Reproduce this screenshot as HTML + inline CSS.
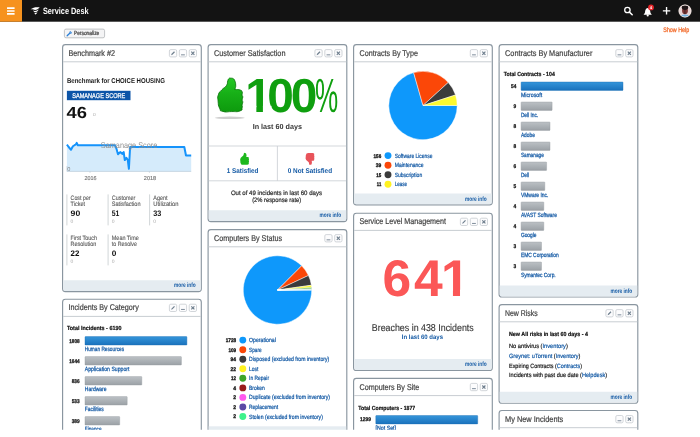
<!DOCTYPE html>
<html lang="en"><head><meta charset="utf-8"><title>Service Desk</title>
<style>html,body{margin:0;padding:0;background:#fff}body{width:700px;height:437px;overflow:hidden}svg{display:block}text{font-family:'Liberation Sans', sans-serif;text-rendering:geometricPrecision}</style>
</head><body>
<svg width="700" height="437" viewBox="0 0 700 437">
<defs>
<linearGradient id="gb" x1="0" y1="0" x2="0" y2="1"><stop offset="0" stop-color="#3595da"/><stop offset="1" stop-color="#1a72bd"/></linearGradient>
<linearGradient id="gg" x1="0" y1="0" x2="0" y2="1"><stop offset="0" stop-color="#bcc1c5"/><stop offset="1" stop-color="#9ba1a6"/></linearGradient>
<linearGradient id="gt" x1="0" y1="0" x2="0" y2="1"><stop offset="0" stop-color="#25c925"/><stop offset="0.45" stop-color="#17b017"/><stop offset="1" stop-color="#0d9a0d"/></linearGradient>
<clipPath id="clip"><rect x="0" y="0" width="700" height="429.8"/></clipPath>
<clipPath id="av"><circle cx="685" cy="11" r="6"/></clipPath>
</defs>
<rect width="700" height="437" fill="#fff"/>
<g clip-path="url(#clip)">
<rect x="0" y="0" width="700" height="21.7" fill="#131313"/>
<rect x="0" y="0" width="22" height="21.7" fill="#f6921e"/>
<rect x="7" y="7.25" width="7.6" height="1.7" rx="0.3" fill="#fff"/>
<rect x="7" y="10.15" width="7.6" height="1.7" rx="0.3" fill="#fff"/>
<rect x="7" y="13.05" width="7.6" height="1.7" rx="0.3" fill="#fff"/>
<path d="M30.6 9.3 C33 7.1 36.5 6.9 39.7 7.3 C38.3 9.5 35.6 10.4 33.4 9.6 C32.4 9.2 31.4 9.1 30.6 9.3 Z M32.9 10.5 C34.9 11.3 37 10.8 38.6 9.6 C37.8 11.8 36 12.6 34.3 12.1 Z M34.4 12.8 C35.5 13.1 36.5 12.8 37.4 12.0 C37 13.5 36.1 14.2 35.1 14.4 Z" fill="#fff"/>
<text x="42.9" y="14.1" font-size="9.2" fill="#fff" font-weight="bold" text-anchor="start" textLength="45.7" lengthAdjust="spacingAndGlyphs">Service Desk</text>
<circle cx="627.4" cy="10" r="2.7" fill="none" stroke="#fff" stroke-width="1.3"/>
<line x1="629.4" y1="12.1" x2="632.2" y2="14.8" stroke="#fff" stroke-width="1.5" stroke-linecap="round"/>
<path d="M647.7 7.9 C645.4 8.3 645.2 10.6 645.0 12.2 C644.9 13.3 644.1 13.9 643.5 14.7 H651.9 C651.3 13.9 650.5 13.3 650.4 12.2 C650.2 10.6 650.0 8.3 647.7 7.9 Z" fill="#fff"/>
<circle cx="647.7" cy="15.4" r="1.05" fill="#fff"/>
<circle cx="651.0" cy="7.4" r="2.9" fill="#e8262a"/>
<text x="651.0" y="8.9" font-size="4.2" fill="#fff" font-weight="bold" text-anchor="middle">4</text>
<path d="M666.55 7.1 V14.5 M662.85 10.8 H670.25" stroke="#fff" stroke-width="1.35" fill="none"/>
<circle cx="685" cy="11" r="6.2" fill="#e9dcd8"/>
<g clip-path="url(#av)"><rect x="679" y="5" width="12" height="12" fill="#e6d3d3"/><ellipse cx="685" cy="10.4" rx="2.9" ry="3.8" fill="#7a3434"/><ellipse cx="685" cy="7.6" rx="3.2" ry="2.3" fill="#1c1416"/><rect x="684.3" y="6" width="1.2" height="8" fill="#2a1a1c" opacity="0.6"/><ellipse cx="685" cy="17.2" rx="4.8" ry="2.6" fill="#6fb0e0"/></g>
<circle cx="685" cy="11" r="6.1" fill="none" stroke="#f1e6e2" stroke-width="0.8"/>
<text x="663.3" y="31.6" font-size="6.6" fill="#f26522" font-weight="normal" text-anchor="start" textLength="26.0" lengthAdjust="spacingAndGlyphs" stroke="#f26522" stroke-width="0.25">Show Help</text>
<rect x="64.4" y="29.1" width="40.2" height="8.7" rx="1.6" fill="#f4f4f5" stroke="#b2b5b8" stroke-width="0.8"/>
<path d="M66.7 35.3 L69.3 32.7 A1.7 1.7 0 0 1 71.3 31.0 L70.3 32.0 L71.0 32.8 L72.1 31.8 A1.7 1.7 0 0 1 70.2 33.7 L67.6 36.2 A0.6 0.6 0 0 1 66.7 35.3 Z" fill="#2a7fd6"/>
<text x="73.9" y="35.4" font-size="6.0" fill="#3a3a3a" font-weight="normal" text-anchor="start" textLength="25.4" lengthAdjust="spacingAndGlyphs" stroke="#3a3a3a" stroke-width="0.2">Personalize</text>
<g>
<rect x="62.6" y="44.6" width="138.7" height="247.0" rx="2.8" fill="#fff" stroke="#8a96a0" stroke-width="1.15"/>
<line x1="63.1" y1="61.8" x2="200.8" y2="61.8" stroke="#c8cdd2" stroke-width="1"/>
<text x="68.5" y="55.8" font-size="8.4" fill="#424242" font-weight="normal" text-anchor="start" textLength="46.5" lengthAdjust="spacingAndGlyphs" stroke="#424242" stroke-width="0.2">Benchmark #2</text>
<rect x="169.4" y="49.6" width="7.3" height="7.3" rx="1.4" fill="#fcfcfd" stroke="#c6ccd1" stroke-width="0.8"/>
<path d="M171.15 55.15 L171.55 53.85 L174.05 51.35 L174.95 52.25 L172.45 54.75 Z" fill="#6f7f8e"/>
<rect x="179.3" y="49.6" width="7.3" height="7.3" rx="1.4" fill="#fcfcfd" stroke="#c6ccd1" stroke-width="0.8"/>
<line x1="181.05" y1="54.85" x2="184.85" y2="54.85" stroke="#6f7f8e" stroke-width="0.9"/>
<rect x="189.2" y="49.6" width="7.3" height="7.3" rx="1.4" fill="#fcfcfd" stroke="#c6ccd1" stroke-width="0.8"/>
<path d="M191.30 51.70 L194.40 54.80 M194.40 51.70 L191.30 54.80" stroke="#6f7f8e" stroke-width="1.2" fill="none"/>
<path d="M63.2 280.2 H200.7 V289.1 Q200.7 291.0 198.7 291.0 H65.2 Q63.2 291.0 63.2 289.1 Z" fill="#e5ecf1"/>
<text x="174.0" y="287.3" font-size="6.4" fill="#145aa5" font-weight="bold" text-anchor="start" textLength="21.8" lengthAdjust="spacingAndGlyphs">more info</text>
</g>
<text x="66.9" y="82.9" font-size="7.0" fill="#1a1a1a" font-weight="bold" text-anchor="start" textLength="98.0" lengthAdjust="spacingAndGlyphs">Benchmark for CHOICE HOUSING</text>
<rect x="66.9" y="90.8" width="63.6" height="9.4" fill="#0d55a8"/>
<text x="72.2" y="98.0" font-size="6.8" fill="#fff" font-weight="normal" text-anchor="start" textLength="53.1" lengthAdjust="spacingAndGlyphs" stroke="#fff" stroke-width="0.25">SAMANAGE SCORE</text>
<text x="66.6" y="117.8" font-size="16" fill="#111" font-weight="bold" text-anchor="start" textLength="20.4" lengthAdjust="spacingAndGlyphs">46</text>
<text x="93.0" y="115.6" font-size="4.2" fill="#a8a8a8" font-weight="normal" text-anchor="start">D</text>
<path d="M66.9 144.7 L68.7 147.0 L71.0 149.8 L72.9 146.3 L74.5 145.2 L75.6 144.7 L76.7 142.9 L77.9 145.2 L115.0 145.2 L116.4 148.6 L118.0 154.3 L120.2 152.1 L122.5 153.9 L123.7 152.1 L124.8 160.1 L126.4 157.8 L127.8 160.1 L128.9 168.8 L130.1 147.0 L184.3 147.0 L186.0 155.5 L191.2 155.5 L191.2 171.5 L66.9 171.5 Z" fill="#d5ebfb"/>
<path d="M66.9 171.4 H191.2 M90 171.4 V172.8 M149.4 171.4 V172.8 M67 166 V171.4" stroke="#b4c4d2" stroke-width="0.6" fill="none"/>
<path d="M66.9 144.7 L68.7 147.0 L71.0 149.8 L72.9 146.3 L74.5 145.2 L75.6 144.7 L76.7 142.9 L77.9 145.2 L115.0 145.2 L116.4 148.6 L118.0 154.3 L120.2 152.1 L122.5 153.9 L123.7 152.1 L124.8 160.1 L126.4 157.8 L127.8 160.1 L128.9 168.8 L130.1 147.0 L184.3 147.0 L186.0 155.5 L191.2 155.5" fill="none" stroke="#1593fb" stroke-width="2.0" stroke-linejoin="round"/>
<text x="100.8" y="147.9" font-size="8.3" fill="#8f8f8f" font-weight="normal" text-anchor="start" textLength="56.5" lengthAdjust="spacingAndGlyphs">Samanage Score</text>
<text x="67.2" y="170.6" font-size="5.6" fill="#8a8a8a" font-weight="normal" text-anchor="start">0</text>
<text x="84.4" y="180.0" font-size="5.7" fill="#777" font-weight="normal" text-anchor="start" textLength="12.0" lengthAdjust="spacingAndGlyphs" stroke="#777" stroke-width="0.15">2016</text>
<text x="143.8" y="180.0" font-size="5.7" fill="#777" font-weight="normal" text-anchor="start" textLength="12.4" lengthAdjust="spacingAndGlyphs" stroke="#777" stroke-width="0.15">2018</text>
<line x1="66.9" y1="194.4" x2="66.9" y2="225.4" stroke="#cdd1d4" stroke-width="0.9"/>
<text x="70.6" y="199.6" font-size="6.3" fill="#5a5a5a" font-weight="normal" text-anchor="start" textLength="20.0" lengthAdjust="spacingAndGlyphs" stroke="#5a5a5a" stroke-width="0.12">Cost per</text>
<text x="70.6" y="206.1" font-size="6.3" fill="#5a5a5a" font-weight="normal" text-anchor="start" textLength="14.4" lengthAdjust="spacingAndGlyphs" stroke="#5a5a5a" stroke-width="0.12">Ticket</text>
<text x="70.6" y="216.1" font-size="8.0" fill="#111" font-weight="bold" text-anchor="start" textLength="9.6" lengthAdjust="spacingAndGlyphs">90</text>
<text x="70.6" y="223.0" font-size="5.0" fill="#a8a8a8" font-weight="normal" text-anchor="start">0</text>
<line x1="108.1" y1="194.4" x2="108.1" y2="225.4" stroke="#cdd1d4" stroke-width="0.9"/>
<text x="111.8" y="199.6" font-size="6.3" fill="#5a5a5a" font-weight="normal" text-anchor="start" textLength="23.4" lengthAdjust="spacingAndGlyphs" stroke="#5a5a5a" stroke-width="0.12">Customer</text>
<text x="111.8" y="206.1" font-size="6.3" fill="#5a5a5a" font-weight="normal" text-anchor="start" textLength="28.7" lengthAdjust="spacingAndGlyphs" stroke="#5a5a5a" stroke-width="0.12">Satisfaction</text>
<text x="111.8" y="216.1" font-size="8.0" fill="#111" font-weight="bold" text-anchor="start" textLength="7.6" lengthAdjust="spacingAndGlyphs">51</text>
<text x="111.8" y="223.0" font-size="5.0" fill="#a8a8a8" font-weight="normal" text-anchor="start">0</text>
<line x1="149.6" y1="194.4" x2="149.6" y2="225.4" stroke="#cdd1d4" stroke-width="0.9"/>
<text x="153.3" y="199.6" font-size="6.3" fill="#5a5a5a" font-weight="normal" text-anchor="start" textLength="14.2" lengthAdjust="spacingAndGlyphs" stroke="#5a5a5a" stroke-width="0.12">Agent</text>
<text x="153.3" y="206.1" font-size="6.3" fill="#5a5a5a" font-weight="normal" text-anchor="start" textLength="25.2" lengthAdjust="spacingAndGlyphs" stroke="#5a5a5a" stroke-width="0.12">Utilization</text>
<text x="153.3" y="216.1" font-size="8.0" fill="#111" font-weight="bold" text-anchor="start" textLength="8.0" lengthAdjust="spacingAndGlyphs">33</text>
<text x="153.3" y="223.0" font-size="5.0" fill="#a8a8a8" font-weight="normal" text-anchor="start">0</text>
<line x1="66.9" y1="234.4" x2="66.9" y2="265.4" stroke="#cdd1d4" stroke-width="0.9"/>
<text x="70.6" y="239.6" font-size="6.3" fill="#5a5a5a" font-weight="normal" text-anchor="start" textLength="26.3" lengthAdjust="spacingAndGlyphs" stroke="#5a5a5a" stroke-width="0.12">First Touch</text>
<text x="70.6" y="246.1" font-size="6.3" fill="#5a5a5a" font-weight="normal" text-anchor="start" textLength="25.8" lengthAdjust="spacingAndGlyphs" stroke="#5a5a5a" stroke-width="0.12">Resolution</text>
<text x="70.6" y="256.1" font-size="8.0" fill="#111" font-weight="bold" text-anchor="start" textLength="8.8" lengthAdjust="spacingAndGlyphs">22</text>
<text x="70.6" y="263.0" font-size="5.0" fill="#a8a8a8" font-weight="normal" text-anchor="start">0</text>
<line x1="108.1" y1="234.4" x2="108.1" y2="265.4" stroke="#cdd1d4" stroke-width="0.9"/>
<text x="111.8" y="239.6" font-size="6.3" fill="#5a5a5a" font-weight="normal" text-anchor="start" textLength="27.0" lengthAdjust="spacingAndGlyphs" stroke="#5a5a5a" stroke-width="0.12">Mean Time</text>
<text x="111.8" y="246.1" font-size="6.3" fill="#5a5a5a" font-weight="normal" text-anchor="start" textLength="25.2" lengthAdjust="spacingAndGlyphs" stroke="#5a5a5a" stroke-width="0.12">to Resolve</text>
<text x="111.8" y="256.1" font-size="8.0" fill="#111" font-weight="bold" text-anchor="start" textLength="4.6" lengthAdjust="spacingAndGlyphs">0</text>
<text x="111.8" y="263.0" font-size="5.0" fill="#a8a8a8" font-weight="normal" text-anchor="start">0</text>
<g>
<rect x="62.6" y="299.2" width="138.7" height="170.8" rx="2.8" fill="#fff" stroke="#8a96a0" stroke-width="1.15"/>
<line x1="63.1" y1="316.4" x2="200.8" y2="316.4" stroke="#c8cdd2" stroke-width="1"/>
<text x="68.5" y="310.4" font-size="8.4" fill="#424242" font-weight="normal" text-anchor="start" textLength="70.3" lengthAdjust="spacingAndGlyphs" stroke="#424242" stroke-width="0.2">Incidents By Category</text>
<rect x="169.4" y="304.2" width="7.3" height="7.3" rx="1.4" fill="#fcfcfd" stroke="#c6ccd1" stroke-width="0.8"/>
<path d="M171.15 309.75 L171.55 308.45 L174.05 305.95 L174.95 306.85 L172.45 309.35 Z" fill="#6f7f8e"/>
<rect x="179.3" y="304.2" width="7.3" height="7.3" rx="1.4" fill="#fcfcfd" stroke="#c6ccd1" stroke-width="0.8"/>
<line x1="181.05" y1="309.45" x2="184.85" y2="309.45" stroke="#6f7f8e" stroke-width="0.9"/>
<rect x="189.2" y="304.2" width="7.3" height="7.3" rx="1.4" fill="#fcfcfd" stroke="#c6ccd1" stroke-width="0.8"/>
<path d="M191.30 306.30 L194.40 309.40 M194.40 306.30 L191.30 309.40" stroke="#6f7f8e" stroke-width="1.2" fill="none"/>
</g>
<text x="66.9" y="330.1" font-size="5.9" fill="#111" font-weight="bold" text-anchor="start" textLength="54.5" lengthAdjust="spacingAndGlyphs" stroke="#111" stroke-width="0.2">Total Incidents - 6190</text>
<rect x="85.0" y="336.6" width="101.9" height="8.4" rx="0.5" fill="url(#gb)" stroke="#1a6db2" stroke-width="0.4"/>
<text x="79.7" y="342.5" font-size="5.5" fill="#111" font-weight="bold" text-anchor="end" textLength="10.5" lengthAdjust="spacingAndGlyphs" stroke="#111" stroke-width="0.25">1808</text>
<text x="84.8" y="351.2" font-size="6.1" fill="#145aa5" font-weight="normal" text-anchor="start" textLength="39.3" lengthAdjust="spacingAndGlyphs" stroke="#145aa5" stroke-width="0.25">Human Resources</text>
<rect x="85.0" y="356.6" width="96.4" height="8.4" rx="0.5" fill="url(#gg)" stroke="#959ba0" stroke-width="0.4"/>
<text x="79.7" y="362.5" font-size="5.5" fill="#111" font-weight="bold" text-anchor="end" textLength="10.5" lengthAdjust="spacingAndGlyphs" stroke="#111" stroke-width="0.25">1644</text>
<text x="84.8" y="371.2" font-size="6.1" fill="#145aa5" font-weight="normal" text-anchor="start" textLength="44.6" lengthAdjust="spacingAndGlyphs" stroke="#145aa5" stroke-width="0.25">Application Support</text>
<rect x="85.0" y="376.6" width="56.8" height="8.4" rx="0.5" fill="url(#gg)" stroke="#959ba0" stroke-width="0.4"/>
<text x="79.7" y="382.5" font-size="5.5" fill="#111" font-weight="bold" text-anchor="end" textLength="8.0" lengthAdjust="spacingAndGlyphs" stroke="#111" stroke-width="0.25">836</text>
<text x="84.8" y="391.2" font-size="6.1" fill="#145aa5" font-weight="normal" text-anchor="start" textLength="21.8" lengthAdjust="spacingAndGlyphs" stroke="#145aa5" stroke-width="0.25">Hardware</text>
<rect x="85.0" y="396.6" width="42.2" height="8.4" rx="0.5" fill="url(#gg)" stroke="#959ba0" stroke-width="0.4"/>
<text x="79.7" y="402.5" font-size="5.5" fill="#111" font-weight="bold" text-anchor="end" textLength="8.0" lengthAdjust="spacingAndGlyphs" stroke="#111" stroke-width="0.25">533</text>
<text x="84.8" y="411.2" font-size="6.1" fill="#145aa5" font-weight="normal" text-anchor="start" textLength="18.9" lengthAdjust="spacingAndGlyphs" stroke="#145aa5" stroke-width="0.25">Facilities</text>
<rect x="85.0" y="416.6" width="34.7" height="8.4" rx="0.5" fill="url(#gg)" stroke="#959ba0" stroke-width="0.4"/>
<text x="79.7" y="422.5" font-size="5.5" fill="#111" font-weight="bold" text-anchor="end" textLength="8.0" lengthAdjust="spacingAndGlyphs" stroke="#111" stroke-width="0.25">389</text>
<text x="84.8" y="431.2" font-size="6.1" fill="#145aa5" font-weight="normal" text-anchor="start" textLength="16.7" lengthAdjust="spacingAndGlyphs" stroke="#145aa5" stroke-width="0.25">Finance</text>
<g>
<rect x="208.1" y="44.6" width="138.7" height="177.0" rx="2.8" fill="#fff" stroke="#8a96a0" stroke-width="1.15"/>
<line x1="208.6" y1="61.8" x2="346.3" y2="61.8" stroke="#c8cdd2" stroke-width="1"/>
<text x="214.0" y="55.8" font-size="8.4" fill="#424242" font-weight="normal" text-anchor="start" textLength="71.5" lengthAdjust="spacingAndGlyphs" stroke="#424242" stroke-width="0.2">Customer Satisfaction</text>
<rect x="314.9" y="49.6" width="7.3" height="7.3" rx="1.4" fill="#fcfcfd" stroke="#c6ccd1" stroke-width="0.8"/>
<path d="M316.65 55.15 L317.05 53.85 L319.55 51.35 L320.45 52.25 L317.95 54.75 Z" fill="#6f7f8e"/>
<rect x="324.8" y="49.6" width="7.3" height="7.3" rx="1.4" fill="#fcfcfd" stroke="#c6ccd1" stroke-width="0.8"/>
<line x1="326.55" y1="54.85" x2="330.35" y2="54.85" stroke="#6f7f8e" stroke-width="0.9"/>
<rect x="334.7" y="49.6" width="7.3" height="7.3" rx="1.4" fill="#fcfcfd" stroke="#c6ccd1" stroke-width="0.8"/>
<path d="M336.80 51.70 L339.90 54.80 M339.90 51.70 L336.80 54.80" stroke="#6f7f8e" stroke-width="1.2" fill="none"/>
<path d="M208.7 210.2 H346.2 V219.1 Q346.2 221.0 344.2 221.0 H210.7 Q208.7 221.0 208.7 219.1 Z" fill="#e5ecf1"/>
<text x="319.5" y="217.3" font-size="6.4" fill="#145aa5" font-weight="bold" text-anchor="start" textLength="21.8" lengthAdjust="spacingAndGlyphs">more info</text>
</g>
<ellipse cx="229.8" cy="117.8" rx="15" ry="1.3" fill="#bdbdbd" opacity="0.75"/>
<g transform="translate(217.75 78.1) scale(0.965 0.965)"><path d="M13.60 0.10 C15.07 0.18 14.73 -0.18 16.10 0.75 C17.47 1.68 16.87 0.72 17.70 2.90 C18.53 5.08 18.47 4.73 18.60 7.30 C18.73 9.87 18.30 9.17 18.10 10.60 C17.90 12.03 17.83 11.17 18.00 11.60 C18.17 12.03 16.93 11.67 18.60 11.90 C20.27 12.13 20.77 11.47 23.00 12.30 C25.23 13.13 24.57 12.70 25.30 14.40 C26.03 16.10 25.00 15.67 25.20 17.40 C25.40 19.13 25.87 17.87 25.90 19.60 C25.93 21.33 25.30 20.80 25.30 22.60 C25.30 24.40 25.93 23.20 25.90 25.00 C25.87 26.80 25.40 26.13 25.20 28.00 C25.00 29.87 26.03 28.60 25.30 30.60 C24.57 32.60 26.77 32.63 23.00 34.00 C19.23 35.37 19.87 34.53 14.00 34.70 C8.13 34.87 9.43 35.67 5.40 34.50 C1.37 33.33 3.58 34.83 1.90 31.20 C0.22 27.57 0.78 28.20 0.35 23.60 C-0.08 19.00 -0.65 21.17 0.60 17.40 C1.85 13.63 1.33 15.47 4.10 12.30 C6.87 9.13 6.80 11.03 8.90 7.90 C11.00 4.77 9.47 5.37 10.40 2.90 C11.33 0.43 10.63 1.43 11.70 0.50 C12.77 -0.43 12.13 0.02 13.60 0.10 Z" fill="url(#gt)" stroke="#0a730a" stroke-width="0.9"/></g>
<text x="245.2 267.3 290.7" y="112.0" font-size="47.8" fill="#0f9f0f" font-weight="bold">100</text>
<rect x="247.11" y="105.83" width="9.24" height="7.17" fill="#fff"/>
<rect x="262.91" y="105.83" width="8.60" height="7.17" fill="#fff"/>
<text x="315.0" y="112.0" font-size="47.8" fill="#0f9f0f" font-weight="normal" text-anchor="start" textLength="23.2" lengthAdjust="spacingAndGlyphs">%</text>
<text x="252.7" y="129.3" font-size="7.3" fill="#333" font-weight="bold" text-anchor="start" textLength="49.2" lengthAdjust="spacingAndGlyphs">In last 60 days</text>
<line x1="208.7" y1="146" x2="346.2" y2="146" stroke="#c8cdd2" stroke-width="0.8"/>
<line x1="208.7" y1="180.8" x2="346.2" y2="180.8" stroke="#c8cdd2" stroke-width="0.8"/>
<line x1="277.4" y1="146" x2="277.4" y2="180.8" stroke="#c8cdd2" stroke-width="0.8"/>
<g transform="translate(240.2 152.9) scale(0.34 0.34)"><path d="M13.60 0.10 C15.07 0.18 14.73 -0.18 16.10 0.75 C17.47 1.68 16.87 0.72 17.70 2.90 C18.53 5.08 18.47 4.73 18.60 7.30 C18.73 9.87 18.30 9.17 18.10 10.60 C17.90 12.03 17.83 11.17 18.00 11.60 C18.17 12.03 16.93 11.67 18.60 11.90 C20.27 12.13 20.77 11.47 23.00 12.30 C25.23 13.13 24.57 12.70 25.30 14.40 C26.03 16.10 25.00 15.67 25.20 17.40 C25.40 19.13 25.87 17.87 25.90 19.60 C25.93 21.33 25.30 20.80 25.30 22.60 C25.30 24.40 25.93 23.20 25.90 25.00 C25.87 26.80 25.40 26.13 25.20 28.00 C25.00 29.87 26.03 28.60 25.30 30.60 C24.57 32.60 26.77 32.63 23.00 34.00 C19.23 35.37 19.87 34.53 14.00 34.70 C8.13 34.87 9.43 35.67 5.40 34.50 C1.37 33.33 3.58 34.83 1.90 31.20 C0.22 27.57 0.78 28.20 0.35 23.60 C-0.08 19.00 -0.65 21.17 0.60 17.40 C1.85 13.63 1.33 15.47 4.10 12.30 C6.87 9.13 6.80 11.03 8.90 7.90 C11.00 4.77 9.47 5.37 10.40 2.90 C11.33 0.43 10.63 1.43 11.70 0.50 C12.77 -0.43 12.13 0.02 13.60 0.10 Z" fill="#1db81d"/></g>
<g transform="translate(305.6 164.9) scale(0.34 -0.34)"><path d="M13.60 0.10 C15.07 0.18 14.73 -0.18 16.10 0.75 C17.47 1.68 16.87 0.72 17.70 2.90 C18.53 5.08 18.47 4.73 18.60 7.30 C18.73 9.87 18.30 9.17 18.10 10.60 C17.90 12.03 17.83 11.17 18.00 11.60 C18.17 12.03 16.93 11.67 18.60 11.90 C20.27 12.13 20.77 11.47 23.00 12.30 C25.23 13.13 24.57 12.70 25.30 14.40 C26.03 16.10 25.00 15.67 25.20 17.40 C25.40 19.13 25.87 17.87 25.90 19.60 C25.93 21.33 25.30 20.80 25.30 22.60 C25.30 24.40 25.93 23.20 25.90 25.00 C25.87 26.80 25.40 26.13 25.20 28.00 C25.00 29.87 26.03 28.60 25.30 30.60 C24.57 32.60 26.77 32.63 23.00 34.00 C19.23 35.37 19.87 34.53 14.00 34.70 C8.13 34.87 9.43 35.67 5.40 34.50 C1.37 33.33 3.58 34.83 1.90 31.20 C0.22 27.57 0.78 28.20 0.35 23.60 C-0.08 19.00 -0.65 21.17 0.60 17.40 C1.85 13.63 1.33 15.47 4.10 12.30 C6.87 9.13 6.80 11.03 8.90 7.90 C11.00 4.77 9.47 5.37 10.40 2.90 C11.33 0.43 10.63 1.43 11.70 0.50 C12.77 -0.43 12.13 0.02 13.60 0.10 Z" fill="#e8535a"/></g>
<text x="226.8" y="173.1" font-size="6.9" fill="#145aa5" font-weight="bold" text-anchor="start" textLength="31.6" lengthAdjust="spacingAndGlyphs">1 Satisfied</text>
<text x="287.7" y="173.1" font-size="6.9" fill="#145aa5" font-weight="bold" text-anchor="start" textLength="44.4" lengthAdjust="spacingAndGlyphs">0 Not Satisfied</text>
<text x="230.9" y="194.6" font-size="6.3" fill="#2a2a2a" font-weight="normal" text-anchor="start" textLength="91.1" lengthAdjust="spacingAndGlyphs" stroke="#2a2a2a" stroke-width="0.2">Out of 49 incidents in last 60 days</text>
<text x="252.2" y="202.3" font-size="6.3" fill="#2a2a2a" font-weight="normal" text-anchor="start" textLength="49.0" lengthAdjust="spacingAndGlyphs" stroke="#2a2a2a" stroke-width="0.2">(2% response rate)</text>
<g>
<rect x="208.1" y="229.6" width="138.7" height="240.4" rx="2.8" fill="#fff" stroke="#8a96a0" stroke-width="1.15"/>
<line x1="208.6" y1="246.8" x2="346.3" y2="246.8" stroke="#c8cdd2" stroke-width="1"/>
<text x="214.0" y="240.8" font-size="8.4" fill="#424242" font-weight="normal" text-anchor="start" textLength="68.0" lengthAdjust="spacingAndGlyphs" stroke="#424242" stroke-width="0.2">Computers By Status</text>
<rect x="324.8" y="234.6" width="7.3" height="7.3" rx="1.4" fill="#fcfcfd" stroke="#c6ccd1" stroke-width="0.8"/>
<line x1="326.55" y1="239.85" x2="330.35" y2="239.85" stroke="#6f7f8e" stroke-width="0.9"/>
<rect x="334.7" y="234.6" width="7.3" height="7.3" rx="1.4" fill="#fcfcfd" stroke="#c6ccd1" stroke-width="0.8"/>
<path d="M336.80 236.70 L339.90 239.80 M339.90 236.70 L336.80 239.80" stroke="#6f7f8e" stroke-width="1.2" fill="none"/>
</g>
<path d="M277.50 290.00 L311.70 290.00 A34.2 34.2 0 1 1 301.67 265.81 Z" fill="#0e98fb" stroke="#fff" stroke-width="0.45" stroke-linejoin="round"/>
<path d="M277.50 290.00 L301.67 265.81 A34.2 34.2 0 0 1 308.46 275.46 Z" fill="#fb4708" stroke="#fff" stroke-width="0.45" stroke-linejoin="round"/>
<path d="M277.50 290.00 L308.46 275.46 A34.2 34.2 0 0 1 311.37 285.23 Z" fill="#3b3b3b" stroke="#fff" stroke-width="0.45" stroke-linejoin="round"/>
<path d="M277.50 290.00 L311.37 285.23 A34.2 34.2 0 0 1 311.62 287.61 Z" fill="#fcf930" stroke="#fff" stroke-width="0.45" stroke-linejoin="round"/>
<path d="M277.50 290.00 L311.62 287.61 A34.2 34.2 0 0 1 311.68 288.91 Z" fill="#3ea52a" stroke="#fff" stroke-width="0.45" stroke-linejoin="round"/>
<path d="M277.50 290.00 L311.68 288.91 A34.2 34.2 0 0 1 311.69 289.35 Z" fill="#991b1b" stroke="#fff" stroke-width="0.45" stroke-linejoin="round"/>
<path d="M277.50 290.00 L311.69 289.35 A34.2 34.2 0 0 1 311.70 289.56 Z" fill="#ff58ee" stroke="#fff" stroke-width="0.45" stroke-linejoin="round"/>
<path d="M277.50 290.00 L311.70 289.56 A34.2 34.2 0 0 1 311.70 289.78 Z" fill="#5a49a6" stroke="#fff" stroke-width="0.45" stroke-linejoin="round"/>
<path d="M277.50 290.00 L311.70 289.78 A34.2 34.2 0 0 1 311.70 290.00 Z" fill="#3df28b" stroke="#fff" stroke-width="0.45" stroke-linejoin="round"/>
<text x="236.1" y="342.0" font-size="5.3" fill="#111" font-weight="bold" text-anchor="end" textLength="10.4" lengthAdjust="spacingAndGlyphs" stroke="#111" stroke-width="0.3">1728</text>
<circle cx="242.8" cy="340.1" r="3.45" fill="#0e98fb"/>
<text x="249.0" y="342.1" font-size="6.1" fill="#145aa5" font-weight="normal" text-anchor="start" textLength="26.8" lengthAdjust="spacingAndGlyphs" stroke="#145aa5" stroke-width="0.22">Operational</text>
<text x="236.1" y="351.6" font-size="5.3" fill="#111" font-weight="bold" text-anchor="end" textLength="7.7" lengthAdjust="spacingAndGlyphs" stroke="#111" stroke-width="0.3">109</text>
<circle cx="242.8" cy="349.7" r="3.45" fill="#fb4708"/>
<text x="249.0" y="351.7" font-size="6.1" fill="#145aa5" font-weight="normal" text-anchor="start" textLength="12.6" lengthAdjust="spacingAndGlyphs" stroke="#145aa5" stroke-width="0.22">Spare</text>
<text x="236.1" y="361.1" font-size="5.3" fill="#111" font-weight="bold" text-anchor="end" textLength="5.5" lengthAdjust="spacingAndGlyphs" stroke="#111" stroke-width="0.3">94</text>
<circle cx="242.8" cy="359.2" r="3.45" fill="#3b3b3b"/>
<text x="249.0" y="361.2" font-size="6.1" fill="#145aa5" font-weight="normal" text-anchor="start" textLength="80.3" lengthAdjust="spacingAndGlyphs" stroke="#145aa5" stroke-width="0.22">Disposed (excluded from inventory)</text>
<text x="236.1" y="370.6" font-size="5.3" fill="#111" font-weight="bold" text-anchor="end" textLength="5.5" lengthAdjust="spacingAndGlyphs" stroke="#111" stroke-width="0.3">22</text>
<circle cx="242.8" cy="368.8" r="3.45" fill="#fff21f"/>
<text x="249.0" y="370.8" font-size="6.1" fill="#145aa5" font-weight="normal" text-anchor="start" textLength="9.4" lengthAdjust="spacingAndGlyphs" stroke="#145aa5" stroke-width="0.22">Lost</text>
<text x="236.1" y="380.2" font-size="5.3" fill="#111" font-weight="bold" text-anchor="end" textLength="5.0" lengthAdjust="spacingAndGlyphs" stroke="#111" stroke-width="0.3">12</text>
<circle cx="242.8" cy="378.3" r="3.45" fill="#3ea52a"/>
<text x="249.0" y="380.3" font-size="6.1" fill="#145aa5" font-weight="normal" text-anchor="start" textLength="20.1" lengthAdjust="spacingAndGlyphs" stroke="#145aa5" stroke-width="0.22">In Repair</text>
<text x="236.1" y="389.8" font-size="5.3" fill="#111" font-weight="bold" text-anchor="end" textLength="2.8" lengthAdjust="spacingAndGlyphs" stroke="#111" stroke-width="0.3">4</text>
<circle cx="242.8" cy="387.9" r="3.45" fill="#991b1b"/>
<text x="249.0" y="389.9" font-size="6.1" fill="#145aa5" font-weight="normal" text-anchor="start" textLength="15.8" lengthAdjust="spacingAndGlyphs" stroke="#145aa5" stroke-width="0.22">Broken</text>
<text x="236.1" y="399.3" font-size="5.3" fill="#111" font-weight="bold" text-anchor="end" textLength="2.8" lengthAdjust="spacingAndGlyphs" stroke="#111" stroke-width="0.3">2</text>
<circle cx="242.8" cy="397.4" r="3.45" fill="#ff58ee"/>
<text x="249.0" y="399.4" font-size="6.1" fill="#145aa5" font-weight="normal" text-anchor="start" textLength="81.1" lengthAdjust="spacingAndGlyphs" stroke="#145aa5" stroke-width="0.22">Duplicate (excluded from inventory)</text>
<text x="236.1" y="408.9" font-size="5.3" fill="#111" font-weight="bold" text-anchor="end" textLength="2.8" lengthAdjust="spacingAndGlyphs" stroke="#111" stroke-width="0.3">2</text>
<circle cx="242.8" cy="407.0" r="3.45" fill="#5a49a6"/>
<text x="249.0" y="409.0" font-size="6.1" fill="#145aa5" font-weight="normal" text-anchor="start" textLength="29.2" lengthAdjust="spacingAndGlyphs" stroke="#145aa5" stroke-width="0.22">Replacement</text>
<text x="236.1" y="418.4" font-size="5.3" fill="#111" font-weight="bold" text-anchor="end" textLength="2.8" lengthAdjust="spacingAndGlyphs" stroke="#111" stroke-width="0.3">2</text>
<circle cx="242.8" cy="416.5" r="3.45" fill="#3df28b"/>
<text x="249.0" y="418.5" font-size="6.1" fill="#145aa5" font-weight="normal" text-anchor="start" textLength="73.9" lengthAdjust="spacingAndGlyphs" stroke="#145aa5" stroke-width="0.22">Stolen (excluded from inventory)</text>
<rect x="208.7" y="426.3" width="137.5" height="10" fill="#e5ecf1"/>
<g>
<rect x="353.6" y="44.6" width="138.7" height="160.3" rx="2.8" fill="#fff" stroke="#8a96a0" stroke-width="1.15"/>
<line x1="354.1" y1="61.8" x2="491.8" y2="61.8" stroke="#c8cdd2" stroke-width="1"/>
<text x="359.5" y="55.8" font-size="8.4" fill="#424242" font-weight="normal" text-anchor="start" textLength="58.4" lengthAdjust="spacingAndGlyphs" stroke="#424242" stroke-width="0.2">Contracts By Type</text>
<rect x="470.3" y="49.6" width="7.3" height="7.3" rx="1.4" fill="#fcfcfd" stroke="#c6ccd1" stroke-width="0.8"/>
<line x1="472.05" y1="54.85" x2="475.85" y2="54.85" stroke="#6f7f8e" stroke-width="0.9"/>
<rect x="480.2" y="49.6" width="7.3" height="7.3" rx="1.4" fill="#fcfcfd" stroke="#c6ccd1" stroke-width="0.8"/>
<path d="M482.30 51.70 L485.40 54.80 M485.40 51.70 L482.30 54.80" stroke="#6f7f8e" stroke-width="1.2" fill="none"/>
<path d="M354.2 193.5 H491.7 V202.4 Q491.7 204.3 489.7 204.3 H356.2 Q354.2 204.3 354.2 202.4 Z" fill="#e5ecf1"/>
<text x="465.0" y="200.6" font-size="6.4" fill="#145aa5" font-weight="bold" text-anchor="start" textLength="21.8" lengthAdjust="spacingAndGlyphs">more info</text>
</g>
<path d="M423.00 105.50 L457.20 105.50 A34.2 34.2 0 1 1 413.64 72.61 Z" fill="#0e98fb" stroke="#fff" stroke-width="0.45" stroke-linejoin="round"/>
<path d="M423.00 105.50 L413.64 72.61 A34.2 34.2 0 0 1 448.27 82.46 Z" fill="#fb4708" stroke="#fff" stroke-width="0.45" stroke-linejoin="round"/>
<path d="M423.00 105.50 L448.27 82.46 A34.2 34.2 0 0 1 455.54 94.98 Z" fill="#3b3b3b" stroke="#fff" stroke-width="0.45" stroke-linejoin="round"/>
<path d="M423.00 105.50 L455.54 94.98 A34.2 34.2 0 0 1 457.20 105.50 Z" fill="#fcf930" stroke="#fff" stroke-width="0.45" stroke-linejoin="round"/>
<text x="381.2" y="157.5" font-size="5.3" fill="#111" font-weight="bold" text-anchor="end" textLength="7.7" lengthAdjust="spacingAndGlyphs" stroke="#111" stroke-width="0.3">156</text>
<circle cx="388.0" cy="155.6" r="3.45" fill="#0e98fb"/>
<text x="394.7" y="157.6" font-size="6.1" fill="#145aa5" font-weight="normal" text-anchor="start" textLength="37.8" lengthAdjust="spacingAndGlyphs" stroke="#145aa5" stroke-width="0.22">Software License</text>
<text x="381.2" y="167.1" font-size="5.3" fill="#111" font-weight="bold" text-anchor="end" textLength="5.5" lengthAdjust="spacingAndGlyphs" stroke="#111" stroke-width="0.3">39</text>
<circle cx="388.0" cy="165.2" r="3.45" fill="#fb4708"/>
<text x="394.7" y="167.2" font-size="6.1" fill="#145aa5" font-weight="normal" text-anchor="start" textLength="29.0" lengthAdjust="spacingAndGlyphs" stroke="#145aa5" stroke-width="0.22">Maintenance</text>
<text x="381.2" y="176.6" font-size="5.3" fill="#111" font-weight="bold" text-anchor="end" textLength="5.0" lengthAdjust="spacingAndGlyphs" stroke="#111" stroke-width="0.3">15</text>
<circle cx="388.0" cy="174.7" r="3.45" fill="#3b3b3b"/>
<text x="394.7" y="176.7" font-size="6.1" fill="#145aa5" font-weight="normal" text-anchor="start" textLength="27.5" lengthAdjust="spacingAndGlyphs" stroke="#145aa5" stroke-width="0.22">Subscription</text>
<text x="381.2" y="186.2" font-size="5.3" fill="#111" font-weight="bold" text-anchor="end" textLength="4.4" lengthAdjust="spacingAndGlyphs" stroke="#111" stroke-width="0.3">11</text>
<circle cx="388.0" cy="184.2" r="3.45" fill="#fff21f"/>
<text x="394.7" y="186.2" font-size="6.1" fill="#145aa5" font-weight="normal" text-anchor="start" textLength="12.4" lengthAdjust="spacingAndGlyphs" stroke="#145aa5" stroke-width="0.22">Lease</text>
<g>
<rect x="353.6" y="213.2" width="138.7" height="157.3" rx="2.8" fill="#fff" stroke="#8a96a0" stroke-width="1.15"/>
<line x1="354.1" y1="230.4" x2="491.8" y2="230.4" stroke="#c8cdd2" stroke-width="1"/>
<text x="359.5" y="224.4" font-size="8.4" fill="#424242" font-weight="normal" text-anchor="start" textLength="86.5" lengthAdjust="spacingAndGlyphs" stroke="#424242" stroke-width="0.2">Service Level Management</text>
<rect x="460.4" y="218.2" width="7.3" height="7.3" rx="1.4" fill="#fcfcfd" stroke="#c6ccd1" stroke-width="0.8"/>
<path d="M462.15 223.75 L462.55 222.45 L465.05 219.95 L465.95 220.85 L463.45 223.35 Z" fill="#6f7f8e"/>
<rect x="470.3" y="218.2" width="7.3" height="7.3" rx="1.4" fill="#fcfcfd" stroke="#c6ccd1" stroke-width="0.8"/>
<line x1="472.05" y1="223.45" x2="475.85" y2="223.45" stroke="#6f7f8e" stroke-width="0.9"/>
<rect x="480.2" y="218.2" width="7.3" height="7.3" rx="1.4" fill="#fcfcfd" stroke="#c6ccd1" stroke-width="0.8"/>
<path d="M482.30 220.30 L485.40 223.40 M485.40 220.30 L482.30 223.40" stroke="#6f7f8e" stroke-width="1.2" fill="none"/>
<path d="M354.2 359.1 H491.7 V368.0 Q491.7 369.9 489.7 369.9 H356.2 Q354.2 369.9 354.2 368.0 Z" fill="#e5ecf1"/>
<text x="465.0" y="366.2" font-size="6.4" fill="#145aa5" font-weight="bold" text-anchor="start" textLength="21.8" lengthAdjust="spacingAndGlyphs">more info</text>
</g>
<text x="382.6 414.0 440.9" y="296.3" font-size="51.6" fill="#fb5757" font-weight="bold">641</text>
<rect x="442.96" y="289.73" width="9.98" height="7.57" fill="#fff"/>
<rect x="460.02" y="289.73" width="9.29" height="7.57" fill="#fff"/>
<text x="371.8" y="330.9" font-size="9.9" fill="#333" font-weight="normal" text-anchor="start" textLength="101.9" lengthAdjust="spacingAndGlyphs" stroke="#333" stroke-width="0.12">Breaches in 438 Incidents</text>
<text x="401.8" y="339.4" font-size="6.4" fill="#145aa5" font-weight="bold" text-anchor="start" textLength="41.2" lengthAdjust="spacingAndGlyphs">In last 60 days</text>
<g>
<rect x="353.6" y="378.4" width="138.7" height="91.6" rx="2.8" fill="#fff" stroke="#8a96a0" stroke-width="1.15"/>
<line x1="354.1" y1="395.6" x2="491.8" y2="395.6" stroke="#c8cdd2" stroke-width="1"/>
<text x="359.5" y="389.6" font-size="8.4" fill="#424242" font-weight="normal" text-anchor="start" textLength="59.8" lengthAdjust="spacingAndGlyphs" stroke="#424242" stroke-width="0.2">Computers By Site</text>
<rect x="470.3" y="383.4" width="7.3" height="7.3" rx="1.4" fill="#fcfcfd" stroke="#c6ccd1" stroke-width="0.8"/>
<line x1="472.05" y1="388.65" x2="475.85" y2="388.65" stroke="#6f7f8e" stroke-width="0.9"/>
<rect x="480.2" y="383.4" width="7.3" height="7.3" rx="1.4" fill="#fcfcfd" stroke="#c6ccd1" stroke-width="0.8"/>
<path d="M482.30 385.50 L485.40 388.60 M485.40 385.50 L482.30 388.60" stroke="#6f7f8e" stroke-width="1.2" fill="none"/>
</g>
<text x="358.3" y="409.5" font-size="5.9" fill="#111" font-weight="bold" text-anchor="start" textLength="56.9" lengthAdjust="spacingAndGlyphs" stroke="#111" stroke-width="0.2">Total Computers - 1877</text>
<rect x="375.8" y="415.5" width="101.9" height="8.4" rx="0.5" fill="url(#gb)" stroke="#1a6db2" stroke-width="0.4"/>
<text x="370.9" y="421.4" font-size="5.5" fill="#111" font-weight="bold" text-anchor="end" textLength="10.9" lengthAdjust="spacingAndGlyphs" stroke="#111" stroke-width="0.25">1299</text>
<text x="375.6" y="430.1" font-size="6.1" fill="#145aa5" font-weight="normal" text-anchor="start" textLength="20.4" lengthAdjust="spacingAndGlyphs" stroke="#145aa5" stroke-width="0.25">[Not Set]</text>
<g>
<rect x="499.1" y="44.6" width="138.7" height="252.4" rx="2.8" fill="#fff" stroke="#8a96a0" stroke-width="1.15"/>
<line x1="499.6" y1="61.8" x2="637.3" y2="61.8" stroke="#c8cdd2" stroke-width="1"/>
<text x="505.0" y="55.8" font-size="8.4" fill="#424242" font-weight="normal" text-anchor="start" textLength="87.4" lengthAdjust="spacingAndGlyphs" stroke="#424242" stroke-width="0.2">Contracts By Manufacturer</text>
<rect x="615.8" y="49.6" width="7.3" height="7.3" rx="1.4" fill="#fcfcfd" stroke="#c6ccd1" stroke-width="0.8"/>
<line x1="617.55" y1="54.85" x2="621.35" y2="54.85" stroke="#6f7f8e" stroke-width="0.9"/>
<rect x="625.7" y="49.6" width="7.3" height="7.3" rx="1.4" fill="#fcfcfd" stroke="#c6ccd1" stroke-width="0.8"/>
<path d="M627.80 51.70 L630.90 54.80 M630.90 51.70 L627.80 54.80" stroke="#6f7f8e" stroke-width="1.2" fill="none"/>
<path d="M499.7 285.6 H637.2 V294.5 Q637.2 296.4 635.2 296.4 H501.7 Q499.7 296.4 499.7 294.5 Z" fill="#e5ecf1"/>
<text x="610.5" y="292.7" font-size="6.4" fill="#145aa5" font-weight="bold" text-anchor="start" textLength="21.8" lengthAdjust="spacingAndGlyphs">more info</text>
</g>
<text x="503.7" y="75.5" font-size="5.9" fill="#111" font-weight="bold" text-anchor="start" textLength="51.1" lengthAdjust="spacingAndGlyphs" stroke="#111" stroke-width="0.2">Total Contracts - 104</text>
<rect x="521.1" y="82.0" width="101.9" height="8.4" rx="0.5" fill="url(#gb)" stroke="#1a6db2" stroke-width="0.4"/>
<text x="516.3" y="87.9" font-size="5.5" fill="#111" font-weight="bold" text-anchor="end" textLength="5.3" lengthAdjust="spacingAndGlyphs" stroke="#111" stroke-width="0.25">54</text>
<text x="520.9" y="96.6" font-size="6.1" fill="#145aa5" font-weight="normal" text-anchor="start" textLength="21.3" lengthAdjust="spacingAndGlyphs" stroke="#145aa5" stroke-width="0.25">Microsoft</text>
<rect x="521.1" y="102.0" width="31.0" height="8.4" rx="0.5" fill="url(#gg)" stroke="#959ba0" stroke-width="0.4"/>
<text x="516.3" y="107.9" font-size="5.5" fill="#111" font-weight="bold" text-anchor="end" textLength="2.7" lengthAdjust="spacingAndGlyphs" stroke="#111" stroke-width="0.25">9</text>
<text x="520.9" y="116.6" font-size="6.1" fill="#145aa5" font-weight="normal" text-anchor="start" textLength="17.4" lengthAdjust="spacingAndGlyphs" stroke="#145aa5" stroke-width="0.25">Dell Inc.</text>
<rect x="521.1" y="122.0" width="28.9" height="8.4" rx="0.5" fill="url(#gg)" stroke="#959ba0" stroke-width="0.4"/>
<text x="516.3" y="127.9" font-size="5.5" fill="#111" font-weight="bold" text-anchor="end" textLength="2.7" lengthAdjust="spacingAndGlyphs" stroke="#111" stroke-width="0.25">8</text>
<text x="520.9" y="136.6" font-size="6.1" fill="#145aa5" font-weight="normal" text-anchor="start" textLength="14.0" lengthAdjust="spacingAndGlyphs" stroke="#145aa5" stroke-width="0.25">Adobe</text>
<rect x="521.1" y="142.0" width="28.9" height="8.4" rx="0.5" fill="url(#gg)" stroke="#959ba0" stroke-width="0.4"/>
<text x="516.3" y="147.9" font-size="5.5" fill="#111" font-weight="bold" text-anchor="end" textLength="2.7" lengthAdjust="spacingAndGlyphs" stroke="#111" stroke-width="0.25">8</text>
<text x="520.9" y="156.6" font-size="6.1" fill="#145aa5" font-weight="normal" text-anchor="start" textLength="22.9" lengthAdjust="spacingAndGlyphs" stroke="#145aa5" stroke-width="0.25">Samanage</text>
<rect x="521.1" y="162.0" width="25.5" height="8.4" rx="0.5" fill="url(#gg)" stroke="#959ba0" stroke-width="0.4"/>
<text x="516.3" y="167.9" font-size="5.5" fill="#111" font-weight="bold" text-anchor="end" textLength="2.7" lengthAdjust="spacingAndGlyphs" stroke="#111" stroke-width="0.25">6</text>
<text x="520.9" y="176.6" font-size="6.1" fill="#145aa5" font-weight="normal" text-anchor="start" textLength="8.2" lengthAdjust="spacingAndGlyphs" stroke="#145aa5" stroke-width="0.25">Dell</text>
<rect x="521.1" y="182.0" width="23.7" height="8.4" rx="0.5" fill="url(#gg)" stroke="#959ba0" stroke-width="0.4"/>
<text x="516.3" y="187.9" font-size="5.5" fill="#111" font-weight="bold" text-anchor="end" textLength="2.7" lengthAdjust="spacingAndGlyphs" stroke="#111" stroke-width="0.25">5</text>
<text x="520.9" y="196.6" font-size="6.1" fill="#145aa5" font-weight="normal" text-anchor="start" textLength="27.5" lengthAdjust="spacingAndGlyphs" stroke="#145aa5" stroke-width="0.25">VMware Inc.</text>
<rect x="521.1" y="202.0" width="22.7" height="8.4" rx="0.5" fill="url(#gg)" stroke="#959ba0" stroke-width="0.4"/>
<text x="516.3" y="207.9" font-size="5.5" fill="#111" font-weight="bold" text-anchor="end" textLength="2.7" lengthAdjust="spacingAndGlyphs" stroke="#111" stroke-width="0.25">4</text>
<text x="520.9" y="216.6" font-size="6.1" fill="#145aa5" font-weight="normal" text-anchor="start" textLength="36.0" lengthAdjust="spacingAndGlyphs" stroke="#145aa5" stroke-width="0.25">AVAST Software</text>
<rect x="521.1" y="222.0" width="22.7" height="8.4" rx="0.5" fill="url(#gg)" stroke="#959ba0" stroke-width="0.4"/>
<text x="516.3" y="227.9" font-size="5.5" fill="#111" font-weight="bold" text-anchor="end" textLength="2.7" lengthAdjust="spacingAndGlyphs" stroke="#111" stroke-width="0.25">4</text>
<text x="520.9" y="236.6" font-size="6.1" fill="#145aa5" font-weight="normal" text-anchor="start" textLength="15.6" lengthAdjust="spacingAndGlyphs" stroke="#145aa5" stroke-width="0.25">Google</text>
<rect x="521.1" y="242.0" width="20.4" height="8.4" rx="0.5" fill="url(#gg)" stroke="#959ba0" stroke-width="0.4"/>
<text x="516.3" y="247.9" font-size="5.5" fill="#111" font-weight="bold" text-anchor="end" textLength="2.7" lengthAdjust="spacingAndGlyphs" stroke="#111" stroke-width="0.25">3</text>
<text x="520.9" y="256.6" font-size="6.1" fill="#145aa5" font-weight="normal" text-anchor="start" textLength="37.8" lengthAdjust="spacingAndGlyphs" stroke="#145aa5" stroke-width="0.25">EMC Corporation</text>
<rect x="521.1" y="262.0" width="20.4" height="8.4" rx="0.5" fill="url(#gg)" stroke="#959ba0" stroke-width="0.4"/>
<text x="516.3" y="267.9" font-size="5.5" fill="#111" font-weight="bold" text-anchor="end" textLength="2.7" lengthAdjust="spacingAndGlyphs" stroke="#111" stroke-width="0.25">3</text>
<text x="520.9" y="276.6" font-size="6.1" fill="#145aa5" font-weight="normal" text-anchor="start" textLength="34.8" lengthAdjust="spacingAndGlyphs" stroke="#145aa5" stroke-width="0.25">Symantec Corp.</text>
<g>
<rect x="499.1" y="304.6" width="138.7" height="98.6" rx="2.8" fill="#fff" stroke="#8a96a0" stroke-width="1.15"/>
<line x1="499.6" y1="321.8" x2="637.3" y2="321.8" stroke="#c8cdd2" stroke-width="1"/>
<text x="505.0" y="315.8" font-size="8.4" fill="#424242" font-weight="normal" text-anchor="start" textLength="32.7" lengthAdjust="spacingAndGlyphs" stroke="#424242" stroke-width="0.2">New Risks</text>
<rect x="605.9" y="309.6" width="7.3" height="7.3" rx="1.4" fill="#fcfcfd" stroke="#c6ccd1" stroke-width="0.8"/>
<path d="M607.65 315.15 L608.05 313.85 L610.55 311.35 L611.45 312.25 L608.95 314.75 Z" fill="#6f7f8e"/>
<rect x="615.8" y="309.6" width="7.3" height="7.3" rx="1.4" fill="#fcfcfd" stroke="#c6ccd1" stroke-width="0.8"/>
<line x1="617.55" y1="314.85" x2="621.35" y2="314.85" stroke="#6f7f8e" stroke-width="0.9"/>
<rect x="625.7" y="309.6" width="7.3" height="7.3" rx="1.4" fill="#fcfcfd" stroke="#c6ccd1" stroke-width="0.8"/>
<path d="M627.80 311.70 L630.90 314.80 M630.90 311.70 L627.80 314.80" stroke="#6f7f8e" stroke-width="1.2" fill="none"/>
<path d="M499.7 391.8 H637.2 V400.7 Q637.2 402.6 635.2 402.6 H501.7 Q499.7 402.6 499.7 400.7 Z" fill="#e5ecf1"/>
<text x="610.5" y="398.9" font-size="6.4" fill="#145aa5" font-weight="bold" text-anchor="start" textLength="21.8" lengthAdjust="spacingAndGlyphs">more info</text>
</g>
<text x="509.0" y="336.2" font-size="5.9" fill="#111" font-weight="bold" text-anchor="start" textLength="79.0" lengthAdjust="spacingAndGlyphs" stroke="#111" stroke-width="0.2">New All risks in last 60 days - 4</text>
<text x="509" y="348.4" font-size="6.2" textLength="58.8" lengthAdjust="spacingAndGlyphs" xml:space="preserve"><tspan fill="#1a1a1a" stroke="#1a1a1a" stroke-width="0.2">No antivirus (</tspan><tspan fill="#145aa5" stroke="#145aa5" stroke-width="0.2">Inventory</tspan><tspan fill="#1a1a1a" stroke="#1a1a1a" stroke-width="0.2">)</tspan></text>
<text x="509" y="358.0" font-size="6.2" textLength="71.4" lengthAdjust="spacingAndGlyphs" xml:space="preserve"><tspan fill="#145aa5" stroke="#145aa5" stroke-width="0.2">Greynet: uTorrent</tspan><tspan fill="#1a1a1a" stroke="#1a1a1a" stroke-width="0.2"> (</tspan><tspan fill="#145aa5" stroke="#145aa5" stroke-width="0.2">Inventory</tspan><tspan fill="#1a1a1a" stroke="#1a1a1a" stroke-width="0.2">)</tspan></text>
<text x="509" y="367.5" font-size="6.2" textLength="73.0" lengthAdjust="spacingAndGlyphs" xml:space="preserve"><tspan fill="#1a1a1a" stroke="#1a1a1a" stroke-width="0.2">Expiring Contracts (</tspan><tspan fill="#145aa5" stroke="#145aa5" stroke-width="0.2">Contracts</tspan><tspan fill="#1a1a1a" stroke="#1a1a1a" stroke-width="0.2">)</tspan></text>
<text x="509" y="377.1" font-size="6.2" textLength="98.2" lengthAdjust="spacingAndGlyphs" xml:space="preserve"><tspan fill="#1a1a1a" stroke="#1a1a1a" stroke-width="0.2">Incidents with past due date (</tspan><tspan fill="#145aa5" stroke="#145aa5" stroke-width="0.2">Helpdesk</tspan><tspan fill="#1a1a1a" stroke="#1a1a1a" stroke-width="0.2">)</tspan></text>
<g>
<rect x="499.1" y="410.5" width="138.7" height="59.5" rx="2.8" fill="#fff" stroke="#8a96a0" stroke-width="1.15"/>
<line x1="499.6" y1="427.7" x2="637.3" y2="427.7" stroke="#c8cdd2" stroke-width="1"/>
<text x="505.0" y="421.7" font-size="8.4" fill="#424242" font-weight="normal" text-anchor="start" textLength="58.3" lengthAdjust="spacingAndGlyphs" stroke="#424242" stroke-width="0.2">My New Incidents</text>
<rect x="615.8" y="415.5" width="7.3" height="7.3" rx="1.4" fill="#fcfcfd" stroke="#c6ccd1" stroke-width="0.8"/>
<line x1="617.55" y1="420.75" x2="621.35" y2="420.75" stroke="#6f7f8e" stroke-width="0.9"/>
<rect x="625.7" y="415.5" width="7.3" height="7.3" rx="1.4" fill="#fcfcfd" stroke="#c6ccd1" stroke-width="0.8"/>
<path d="M627.80 417.60 L630.90 420.70 M630.90 417.60 L627.80 420.70" stroke="#6f7f8e" stroke-width="1.2" fill="none"/>
</g>
</g>
</svg></body></html>
